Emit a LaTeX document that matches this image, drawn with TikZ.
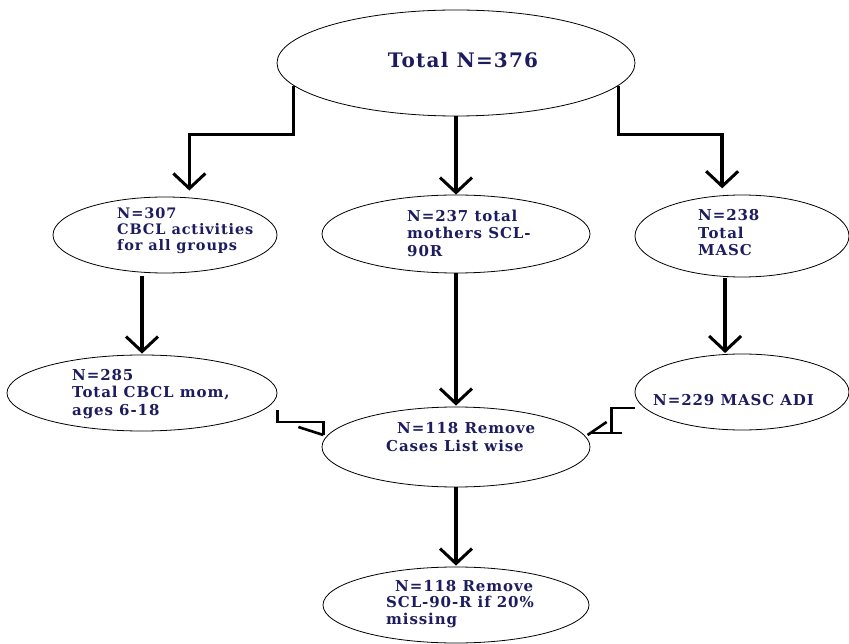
\documentclass[tikz,border=0pt]{standalone}
\usepackage{fontspec}
\setmainfont{DejaVu Serif}[LetterSpace=6]
\usetikzlibrary{shapes.geometric,arrows.meta,calc}
\definecolor{txt}{HTML}{1C1C5E}
\tikzset{
  ell/.style={draw, ellipse, line width=0.8pt, inner sep=0pt},
  lbl/.style={text=txt, font=\bfseries\fontsize{15}{17.5}\selectfont, align=left, anchor=west, inner sep=0pt},
  arr/.style={line width=3.4pt, -{Straight Barb[length=15pt,width=32pt,line width=3pt]}},
  elb/.style={line width=2.6pt},
}
\begin{document}
\begin{tikzpicture}[x=1pt,y=-1pt]
\useasboundingbox (0,0) rectangle (849,644);
% ellipses
\node[ell, minimum width=358pt, minimum height=106pt] (top) at (456,63) {};
\node[ell, minimum width=224pt, minimum height=76pt] (n307) at (165,235) {};
\node[ell, minimum width=268pt, minimum height=78pt] (n237) at (456,234) {};
\node[ell, minimum width=214pt, minimum height=82pt] (n238) at (742,236) {};
\node[ell, minimum width=270pt, minimum height=76pt] (n285) at (142,393) {};
\node[ell, minimum width=214pt, minimum height=76pt] (n229) at (742,392) {};
\node[ell, minimum width=268pt, minimum height=80pt] (n118) at (456,447) {};
\node[ell, minimum width=266pt, minimum height=76pt] (nbot) at (456,605) {};
% texts
\node[text=txt, font=\bfseries\fontsize{20}{24}\selectfont, inner sep=0pt] (ttop) at (463,60) {Total N=376};
\node[lbl, font=\bfseries\fontsize{14.5}{16}\selectfont] (t307) at (117,231) {N=307\\CBCL activities\\for all groups};
\node[lbl] (t237) at (407,233) {N=237 total\\mothers SCL-\\90R};
\node[lbl] (t238) at (698,233) {N=238\\Total\\MASC};
\node[lbl] (t285) at (72,394) {N=285\\Total CBCL mom,\\ages 6-18};
\node[lbl] (t229) at (653,400) {N=229 MASC ADI};
\node[lbl] (t118) at (386,437) {\hspace{11pt}N=118 Remove\\Cases List wise};
\node[lbl, font=\bfseries\fontsize{15}{16.5}\selectfont] (tbot) at (386,604) {\hspace{9pt}N=118 Remove\\SCL-90-R if 20\%\\missing};
% main arrows
\draw[arr, shorten >=7pt] (top.188.5) -- ++(0,49) -| (n307.57);
\draw[arr] (top.south) -- (n237.north);
\draw[arr, shorten >=7pt] (top.-8.5) -- ++(0,49) -| (n238.116);
\draw[arr, shorten <=3pt, shorten >=1pt] (n285.north |- n307.south) -- (n285.north);
\draw[arr, shorten <=1pt, shorten >=1pt] (n229.114 |- n238.south) -- (n229.114);
\draw[arr, shorten >=1pt] (n237.south) -- (n118.north);
\draw[arr, shorten >=1pt] (n118.south) -- (nbot.north);
% odd elbow connectors
\coordinate (lc) at ([yshift=-17pt]n285.east);
\draw[elb] (lc) -- ++(0,12) -- ++(46,0) -- ++(0,13);
\draw[elb] ($(lc)+(21,17)$) -- ++(25,8);
\coordinate (rc) at ([yshift=-16pt]n229.west);
\draw[elb] (rc) -- ++(-23,0) -- ++(0,25);
\draw[elb] ($(rc)+(-45,25)$) -- ++(32,0);
\draw[elb] ($(rc)+(-28,14)$) -- ++(-19,13);
\end{tikzpicture}
\end{document}
